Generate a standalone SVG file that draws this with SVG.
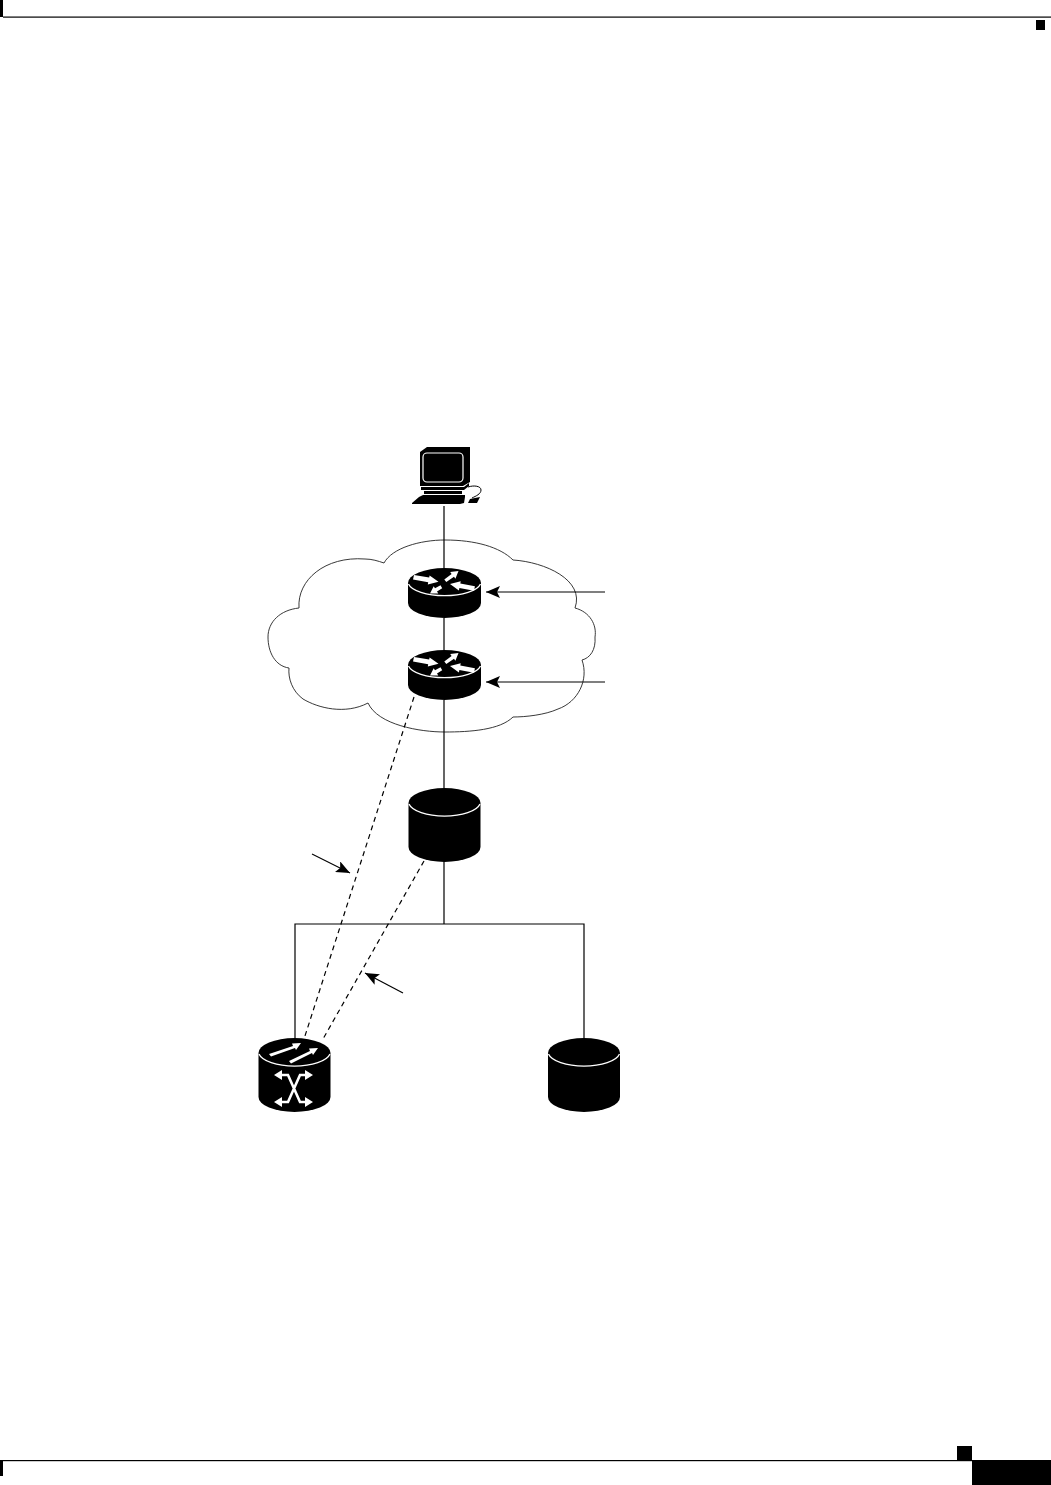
<svg xmlns="http://www.w3.org/2000/svg" width="1051" height="1485" viewBox="0 0 1051 1485">
<style>
.l{fill:none;stroke:#000;stroke-width:1.2}
.c{fill:none;stroke:#222;stroke-width:.9}
.d{fill:none;stroke:#000;stroke-width:1.2;stroke-dasharray:5 4}
.w{fill:none;stroke:#fff;stroke-width:1.3}
.wf{fill:none;stroke:#fff;stroke-width:2.6}
.k{fill:#000}
.a{fill:#fff}
</style>
<defs>
<marker id="ah" viewBox="0 0 14 12" refX="14" refY="6" markerWidth="14" markerHeight="12" markerUnits="userSpaceOnUse" orient="auto"><path d="M0 0L14 6L0 12L3 6Z" fill="#000"/></marker>
<g id="rt">
<path class="k" d="M-36.500 0A36.500 15 0 0 1 36.500 0V20A36.500 15 0 0 1 -36.500 20Z"/>
<path class="w" d="M-36 1A36.500 14 0 0 0 36 1"/>
<path class="a" d="M-30.500-8L-15.300-5.400L-14.900-7.500L-6-1.300L-16.700 1.500L-16.300-.8L-31.500-3.500Z"/>
<path class="a" d="M-.2-3.500L7.100-9.100L5.700-11L14-12L10.900-4.300L9.500-6.200L1.800-.9Z"/>
<path class="a" d="M5.500 1L16.200-1.800L15.800.5L30.400 3.300L29.600 7.800L14.900 5L14.400 7.400Z"/>
<path class="a" d="M-14.500 10.500L-10.800 3.300L-9.500 5.200L-4 2.300L-2.300 5.200L-7.500 8.400L-6.200 10.500Z"/>
</g>
<g id="cyl">
<path class="k" d="M-36 0A36 15 0 0 1 36 0V44A36 15 0 0 1 -36 44Z"/>
<path class="w" d="M-35.500 1A36 14.500 0 0 0 35.500 1"/>
</g>
</defs>
<g id="page-furniture">
<rect class="k" x="0" y="0" width="3" height="17"/>
<rect class="k" x="3" y="16.500" width="1048" height="1.200"/>
<rect class="k" x="1036" y="20" width="9" height="10"/>
<rect class="k" x="0" y="1460" width="972" height="1.200"/>
<rect class="k" x="0" y="1461" width="3" height="15"/>
<rect class="k" x="957" y="1446" width="15" height="14"/>
<rect class="k" x="972" y="1460" width="79" height="25"/>
</g>
<g id="cloud"><path class="c" d="M384 563C392 548 420 540 445 540C475 540 500 547 513 560C545 562 585 580 575 608C590 612 597 625 595 637C596 650 590 658 582 660C589 680 578 702 558 709C545 715 525 717 513 717C500 730 470 732 445 732C420 732 378 725 368 703C345 715 318 708 303 699C292 691 288 678 289 668C275 666 268 652 268 637C268 622 280 610 299 608C297 580 325 556 365 559C372 559 378 561 384 563Z"/></g>
<g id="connectors">
<path class="l" d="M444 506V569M444 618V651M444 700V790M444 860V924M295 1039V924H584V1039"/>
<path class="l" d="M605 592H486" marker-end="url(#ah)"/>
<path class="l" d="M605 682H486" marker-end="url(#ah)"/>
<path class="l" d="M312 854L350 873" marker-end="url(#ah)"/>
<path class="l" d="M403 993L365 973" marker-end="url(#ah)"/>
<path class="d" d="M414 697L304 1039"/>
<path class="d" d="M424 861L323 1039"/>
</g>
<g id="workstation">
<path class="k" d="M420 452L427 447H470V482L463 486H420Z"/>
<rect x="423" y="453" width="40" height="29" rx="4" fill="none" stroke="#fff" stroke-width="1.200"/>
<path class="k" d="M421 487H464L469 483V486L464 490H421ZM424 491H462V494H424ZM423 495H465V497L464 503L460 504H412L412 503L419 497Z"/>
<path class="k" d="M470 499L480 497L477 503H468Z"/>
<path d="M468 487C474 485 481 486 481 490C481 494 476 496 472 498" fill="none" stroke="#000" stroke-width="1"/>
</g>
<g id="router-1"><use href="#rt" x="444.500" y="583"/></g>
<g id="router-2"><use href="#rt" x="444.500" y="665"/></g>
<g id="cylinder-1"><use href="#cyl" x="444.500" y="803"/></g>
<g id="cylinder-2"><use href="#cyl" x="584" y="1053"/></g>
<g id="switch">
<use href="#cyl" x="294.500" y="1053"/>
<path class="a" d="M269 1054L293 1046L292 1043.500L301 1043L296 1050L295 1048L271 1056.500Z"/>
<path class="a" d="M289 1061L310 1051L309 1048.500L318 1048L313 1055L312 1053L291 1063.500Z"/>
<path class="wf" d="M280 1075H288L300 1102H307M280 1102H288L300 1075H307"/>
<path class="a" d="M274 1075L282 1070V1080ZM313 1075L305 1070V1080ZM274 1102L282 1097V1107ZM313 1102L305 1097V1107Z"/>
</g>
</svg>
